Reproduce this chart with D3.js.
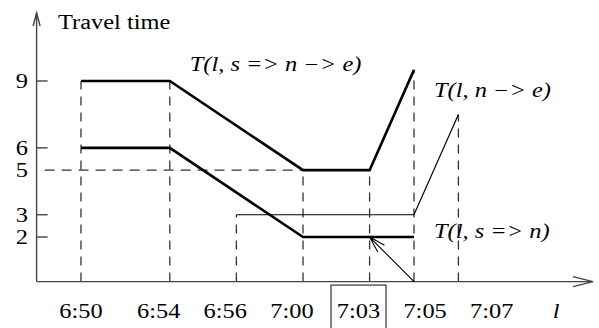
<!DOCTYPE html>
<html>
<head>
<meta charset="utf-8">
<script src="https://d3js.org/d3.v7.min.js"></script>
<style>
  body { margin: 0; background: #fff; }
  text { font-family: "Liberation Serif", serif; font-size: 20px; fill: #000; }
</style>
</head>
<body>
<script>
// time ticks and where they sit on the (schematic) time axis
const ticks = ["6:50", "6:54", "6:56", "7:00", "7:03", "7:05", "7:07"];
const tickAt = [0, 4, 7, 10, 13, 15, 17];
const labelAt = [0, 3.5, 6.5, 9.5, 12.5, 15.5, 18.5];
const boxed = "7:03";

const yTicks = [9, 6, 3, 2];
const yLabels = [9, 6, 5, 3, 2];
const guideLevel = 5;

// travel time functions
const sViaN = [["6:50", 9], ["6:54", 9], ["7:00", 5], ["7:03", 5], ["7:05", 9.5]];
const sToN = [["6:50", 6], ["6:54", 6], ["7:00", 2], ["7:05", 2]];
const nToE = [["6:56", 3], ["7:05", 3], ["7:07", 7.5]];

const width = 599, height = 328;
const svg = d3.select("body").append("svg")
    .attr("width", width)
    .attr("height", height);

const x = d3.scaleLinear().domain([0, 17]).range([81, 458.4]);
const y = d3.scaleLinear().domain([0, 9]).range([281.6, 81]);
const tx = t => x(tickAt[ticks.indexOf(t)]);

const x0 = x(-2), y0 = y(0);
const stretch = 1.22;

function widen(sel, anchor) {
    sel.each(function () {
        let w = this.getComputedTextLength();
        let cx = +this.getAttribute("x");
        d3.select(this)
            .attr("textLength", w * stretch)
            .attr("lengthAdjust", "spacingAndGlyphs")
            .attr("x", anchor == "middle" ? cx - w * stretch / 2 : anchor == "end" ? cx - w * stretch : cx);
    });
}

// dashed drop lines, up to the highest curve at each tick
let all = sViaN.concat(sToN, nToE);
svg.append("g").selectAll("line")
    .data(ticks)
    .join("line")
        .attr("x1", d => tx(d))
        .attr("x2", d => tx(d))
        .attr("y1", y0)
        .attr("y2", d => y(d3.max(all.filter(p => p[0] == d), p => p[1])))
        .attr("stroke", "#333")
        .attr("stroke-width", 1.3)
        .attr("stroke-dasharray", "9,7");

svg.append("line")
    .attr("x1", x0 + 8).attr("x2", tx("7:00"))
    .attr("y1", y(guideLevel)).attr("y2", y(guideLevel))
    .attr("stroke", "#333")
    .attr("stroke-width", 1.3)
    .attr("stroke-dasharray", "10,7");

// axes
let axis = svg.append("g").attr("stroke", "#444").attr("stroke-width", 1.4).attr("fill", "none");
axis.append("line").attr("x1", x0).attr("x2", 593).attr("y1", y0).attr("y2", y0);
axis.append("path").attr("d", `M573,${y0 - 5}L593,${y0}L573,${y0 + 5}`);
axis.append("line").attr("x1", x0).attr("x2", x0).attr("y1", y0).attr("y2", 13);
axis.append("path").attr("d", `M${x0 - 3.5},26L${x0},13L${x0 + 3.5},26`);
axis.selectAll(".yt")
    .data(yTicks)
    .join("line")
        .attr("x1", x0).attr("x2", x0 + 11)
        .attr("y1", d => y(d)).attr("y2", d => y(d));

// curves
let line = d3.line().x(d => tx(d[0])).y(d => y(d[1]));
svg.append("path").datum(sViaN).attr("d", line)
    .attr("fill", "none").attr("stroke", "#000").attr("stroke-width", 2.6);
svg.append("path").datum(sToN).attr("d", line)
    .attr("fill", "none").attr("stroke", "#000").attr("stroke-width", 2.6);
svg.append("path").datum(nToE).attr("d", line)
    .attr("fill", "none").attr("stroke", "#000").attr("stroke-width", 1.2);

// arrow from 7:05 on the axis to T(l, s => n) at 7:03
let ax1 = tx("7:05"), ay1 = y0, ax2 = tx("7:03"), ay2 = y(2);
let ang = Math.atan2(ay1 - ay2, ax1 - ax2);
let barb = (a) => [ax2 + 17 * Math.cos(ang + a), ay2 + 17 * Math.sin(ang + a)];
svg.append("path")
    .attr("d", `M${ax1},${ay1}L${ax2},${ay2}M${barb(0.28)}L${ax2},${ay2}L${barb(-0.28)}`)
    .attr("fill", "none").attr("stroke", "#000").attr("stroke-width", 1.1);

// labels
svg.append("text").attr("x", 58).attr("y", 29).text("Travel time").call(widen, "start");

svg.selectAll(".yl")
    .data(yLabels)
    .join("text")
        .attr("x", 28)
        .attr("y", d => y(d) + 7)
        .text(d => d)
        .call(widen, "end");

svg.selectAll(".xl")
    .data(ticks)
    .join("text")
        .attr("x", (d, i) => x(labelAt[i]))
        .attr("y", 318)
        .text(d => d)
        .call(widen, "middle");

svg.append("text").attr("x", x(21.4)).attr("y", 318)
    .style("font-style", "italic").text("l").call(widen, "middle");

let bx = x(labelAt[ticks.indexOf(boxed)]);
svg.append("rect")
    .attr("x", bx - 27.5).attr("y", y0 + 3.5)
    .attr("width", 55).attr("height", 50)
    .attr("fill", "none").attr("stroke", "#333").attr("stroke-width", 1.2);

let names = [
    ["T(l, s => n \u2212> e)", 4.9, 9.45],
    ["T(l, n \u2212> e)", 15.9, 8.3],
    ["T(l, s => n)", 15.9, 1.95]
];
svg.selectAll(".nm")
    .data(names)
    .join("text")
        .attr("x", d => x(d[1]))
        .attr("y", d => y(d[2]))
        .style("font-style", "italic")
        .text(d => d[0])
        .call(widen, "start");
</script>
</body>
</html>
